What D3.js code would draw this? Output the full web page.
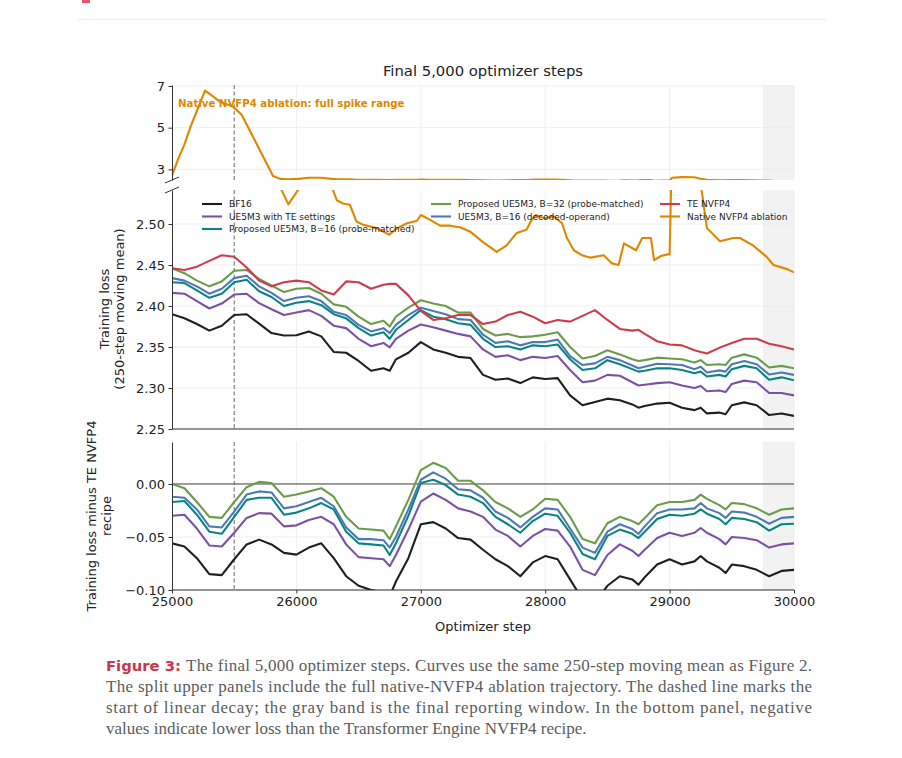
<!DOCTYPE html>
<html>
<head>
<meta charset="utf-8">
<title>Final 5,000 optimizer steps</title>
<script src="https://d3js.org/d3.v7.min.js"></script>
<style>
  body { margin: 0; background: #fff; }
  svg { display: block; }
  text { font-family: "DejaVu Sans", sans-serif; fill: #222; }
  .tick text { font-size: 13px; }
  .tick line, .domain { stroke: #333; }
  .grid { stroke: #ebebeb; stroke-width: 0.8; }
  .series { fill: none; stroke-width: 2.1; stroke-linejoin: round; }
  .caption { font-family: "Liberation Serif", "DejaVu Serif", serif; font-size: 17px; fill: #5c5c5c; }
</style>
</head>
<body>
<script>
// optimizer steps shared by the six comparison runs
var steps = [25000, 25100, 25200, 25300, 25400, 25500, 25600, 25700, 25800, 25900,
             26000, 26100, 26200, 26300, 26400, 26500, 26600, 26700, 26750, 26800, 26900,
             27000, 27100, 27200, 27300, 27400, 27500, 27600, 27700, 27800, 27900,
             28000, 28100, 28200, 28300, 28400, 28500, 28600, 28700, 28750, 28800, 28900,
             29000, 29100, 29200, 29250, 29300, 29400, 29450, 29500, 29600, 29700, 29800, 29900,
             30000];

// TE NVFP4 recipe, 250-step moving mean of training loss
var teNvfp4 = [2.446, 2.444, 2.448, 2.455, 2.462, 2.460, 2.447, 2.431, 2.424, 2.429,
               2.431, 2.429, 2.419, 2.414, 2.430, 2.429, 2.421, 2.426, 2.427, 2.427, 2.413,
               2.394, 2.383, 2.385, 2.389, 2.389, 2.378, 2.381, 2.389, 2.393, 2.387,
               2.379, 2.383, 2.381, 2.388, 2.395, 2.383, 2.372, 2.370, 2.371, 2.366, 2.357,
               2.353, 2.352, 2.346, 2.344, 2.342, 2.349, 2.352, 2.355, 2.360, 2.360, 2.354, 2.351,
               2.347];

// loss minus TE NVFP4 (bottom panel)
var bf16Gap = [-0.056, -0.059, -0.070, -0.085, -0.086, -0.071, -0.057, -0.0525, -0.057, -0.065,
               -0.0666, -0.060, -0.056, -0.070, -0.087, -0.096, -0.100, -0.102, -0.106, -0.092, -0.070,
               -0.038, -0.036, -0.042, -0.051, -0.0525, -0.062, -0.071, -0.0775, -0.087, -0.074,
               -0.068, -0.071, -0.090, -0.109, -0.112, -0.096, -0.087, -0.090, -0.095, -0.088, -0.076,
               -0.071, -0.076, -0.073, -0.068, -0.073, -0.079, -0.084, -0.076, -0.0775, -0.081, -0.087, -0.082,
               -0.081];
var ueTeGap = [-0.030, -0.029, -0.042, -0.058, -0.059, -0.046, -0.032, -0.0275, -0.028, -0.040,
               -0.039, -0.034, -0.031, -0.038, -0.057, -0.069, -0.070, -0.071, -0.0775, -0.067, -0.043,
               -0.0166, -0.009, -0.015, -0.023, -0.026, -0.031, -0.043, -0.049, -0.059, -0.049,
               -0.0425, -0.044, -0.059, -0.081, -0.086, -0.067, -0.057, -0.063, -0.068, -0.062, -0.051,
               -0.046, -0.049, -0.046, -0.0415, -0.046, -0.052, -0.057, -0.050, -0.051, -0.053, -0.060, -0.057,
               -0.056];
var probe16Gap = [-0.017, -0.016, -0.029, -0.045, -0.047, -0.031, -0.015, -0.013, -0.013, -0.029,
                  -0.027, -0.023, -0.018, -0.024, -0.045, -0.056, -0.057, -0.058, -0.067, -0.056, -0.030,
                  0.001, 0.004, -0.001, -0.010, -0.012, -0.018, -0.031, -0.038, -0.046, -0.035,
                  -0.028, -0.030, -0.046, -0.066, -0.071, -0.049, -0.043, -0.047, -0.051, -0.045, -0.033,
                  -0.029, -0.030, -0.028, -0.024, -0.028, -0.033, -0.038, -0.032, -0.033, -0.036, -0.044, -0.038,
                  -0.0375];
var probe32Gap = [0.000, -0.004, -0.017, -0.031, -0.032, -0.017, -0.003, 0.002, 0.001, -0.012,
                  -0.010, -0.007, -0.004, -0.012, -0.031, -0.042, -0.043, -0.044, -0.052, -0.040, -0.015,
                  0.013, 0.020, 0.015, 0.003, 0.003, -0.006, -0.017, -0.023, -0.031, -0.024,
                  -0.014, -0.015, -0.031, -0.052, -0.056, -0.037, -0.031, -0.035, -0.038, -0.032, -0.020,
                  -0.017, -0.017, -0.015, -0.010, -0.014, -0.020, -0.024, -0.018, -0.019, -0.023, -0.029, -0.024,
                  -0.023];
var decodedGap = [-0.012, -0.013, -0.024, -0.040, -0.041, -0.026, -0.010, -0.007, -0.008, -0.023,
                  -0.021, -0.017, -0.013, -0.021, -0.041, -0.052, -0.052, -0.053, -0.060, -0.050, -0.024,
                  0.004, 0.011, 0.005, -0.005, -0.006, -0.013, -0.026, -0.032, -0.041, -0.031,
                  -0.023, -0.024, -0.042, -0.060, -0.065, -0.045, -0.038, -0.0425, -0.047, -0.040, -0.0275,
                  -0.024, -0.024, -0.023, -0.018, -0.023, -0.0275, -0.032, -0.026, -0.027, -0.031, -0.0375, -0.032,
                  -0.031];

// native NVFP4 ablation (own step grid, includes the spike)
var nativeSteps = [25000, 25050, 25100, 25150, 25200, 25265, 25300, 25385, 25490, 25560, 25690, 25812,
                   25870, 25935, 26015, 26100, 26200, 26285, 26325, 26375, 26430, 26483, 26537, 26645,
                   26745, 26810, 26890, 26970, 27000, 27075, 27155, 27235, 27315, 27395, 27500, 27610,
                   27690, 27770, 27850, 27890, 27925, 27990, 28070, 28135, 28175, 28230, 28295, 28365,
                   28470, 28537, 28590, 28633, 28730, 28780, 28850, 28875, 28930, 28985, 29000, 29020,
                   29100, 29200, 29240, 29300, 29405, 29510, 29565, 29670, 29780, 29835, 29945, 30000];
var nativeLoss = [2.70, 3.50, 4.20, 5.06, 5.80, 6.78, 6.63, 6.25, 6.01, 5.62, 4.11, 2.68,
                  2.545, 2.524, 2.542, 2.60, 2.60, 2.545, 2.529, 2.525, 2.5235, 2.503, 2.499, 2.495,
                  2.487, 2.495, 2.501, 2.504, 2.511, 2.505, 2.498, 2.498, 2.496, 2.491, 2.478, 2.466,
                  2.474, 2.489, 2.493, 2.505, 2.511, 2.507, 2.509, 2.501, 2.483, 2.468, 2.462, 2.459,
                  2.462, 2.452, 2.450, 2.4765, 2.468, 2.483, 2.483, 2.456, 2.461, 2.463, 2.463, 2.60,
                  2.63, 2.62, 2.56, 2.495, 2.479, 2.483, 2.483, 2.474, 2.460, 2.450, 2.445, 2.441];

var seriesNames = ["BF16", "UE5M3 with TE settings", "Proposed UE5M3, B=16 (probe-matched)",
                   "Proposed UE5M3, B=32 (probe-matched)", "UE5M3, B=16 (decoded-operand)",
                   "TE NVFP4", "Native NVFP4 ablation"];
var seriesColors = ["#1f1f1f", "#7b52a3", "#0b8481", "#6a9c4a", "#4d7ab5", "#cc3d4b", "#dd8800"];
var gaps = [bf16Gap, ueTeGap, probe16Gap, probe32Gap, decodedGap];

var xTicks = [25000, 26000, 27000, 28000, 29000, 30000];
var topTicks = [3, 5, 7];
var midTicks = [2.25, 2.30, 2.35, 2.40, 2.45, 2.50];
var botTicks = [-0.10, -0.05, 0.00];
var decayStart = 25500, windowStart = 29750;

var W = 902, H = 758;
var svg = d3.select("body").append("svg").attr("width", W).attr("height", H);

var x = d3.scaleLinear().domain([25000, 30000]).range([172, 794]);

var panels = [
  {id: "top", y: d3.scaleLinear().domain([2.49, 7.048]).range([180, 85]), ticks: topTicks, fmt: d3.format("d")},
  {id: "mid", y: d3.scaleLinear().domain([2.25, 2.5415]).range([429, 190]), ticks: midTicks, fmt: d3.format(".2f")},
  {id: "bot", y: d3.scaleLinear().domain([-0.10, 0.0396]).range([590, 442]), ticks: botTicks, fmt: d3.format(".2f")}
];

// page furniture from the surrounding document
svg.append("rect").attr("x", 82).attr("y", 0).attr("width", 8).attr("height", 3).attr("fill", "#e8556a");
svg.append("line").attr("x1", 77).attr("x2", 826).attr("y1", 19.5).attr("y2", 19.5)
   .attr("stroke", "#ececec").attr("stroke-width", 1);

panels.forEach(function(p) {
  var y0 = p.y.range()[1], y1 = p.y.range()[0];
  var g = svg.append("g");

  g.append("clipPath").attr("id", "clip-" + p.id)
    .append("rect").attr("x", x(25000)).attr("y", y0).attr("width", x(30000) - x(25000)).attr("height", y1 - y0);

  // final reporting window
  g.append("rect").attr("x", x(windowStart)).attr("y", y0)
    .attr("width", x(30000) - x(windowStart)).attr("height", y1 - y0).attr("fill", "#f2f2f2");

  g.selectAll(".vgrid").data(xTicks.slice(1)).enter().append("line").attr("class", "grid")
    .attr("x1", function(d) { return x(d); }).attr("x2", function(d) { return x(d); })
    .attr("y1", y0).attr("y2", y1);
  g.selectAll(".hgrid").data(p.ticks).enter().append("line").attr("class", "grid")
    .attr("x1", x(25000)).attr("x2", x(30000))
    .attr("y1", function(d) { return p.y(d); }).attr("y2", function(d) { return p.y(d); });

  if (p.id == "bot") {
    g.append("line").attr("x1", x(25000)).attr("x2", x(30000))
      .attr("y1", p.y(0)).attr("y2", p.y(0)).attr("stroke", "#444").attr("stroke-width", 1);
  }

  g.append("line").attr("x1", x(decayStart)).attr("x2", x(decayStart)).attr("y1", y0).attr("y2", y1)
    .attr("stroke", "#666").attr("stroke-width", 1).attr("stroke-dasharray", "4,2.5");

  var line = d3.line().x(function(d) { return x(d[0]); }).y(function(d) { return p.y(d[1]); });
  var lines = g.append("g").attr("clip-path", "url(#clip-" + p.id + ")");

  if (p.id != "top") {
    gaps.forEach(function(gap, k) {
      var pts = steps.map(function(s, i) {
        return [s, p.id == "mid" ? teNvfp4[i] + gap[i] : gap[i]];
      });
      lines.append("path").attr("class", "series").attr("stroke", seriesColors[k]).attr("d", line(pts));
    });
  }
  if (p.id == "mid") {
    lines.append("path").attr("class", "series").attr("stroke", seriesColors[5])
      .attr("d", line(steps.map(function(s, i) { return [s, teNvfp4[i]]; })));
  }
  if (p.id != "bot") {
    lines.append("path").attr("class", "series").attr("stroke", seriesColors[6])
      .attr("d", line(nativeSteps.map(function(s, i) { return [s, nativeLoss[i]]; })));
  }

  g.append("g").attr("transform", "translate(" + x(25000) + ",0)")
    .call(d3.axisLeft(p.y).tickValues(p.ticks).tickFormat(p.fmt).tickSize(3.5).tickSizeOuter(0).tickPadding(3.5));

  if (p.id != "top") {
    g.append("line").attr("x1", x(25000)).attr("x2", x(30000)).attr("y1", y1).attr("y2", y1)
      .attr("stroke", "#333").attr("stroke-width", 1);
  }
  if (p.id == "bot") {
    g.append("g").attr("transform", "translate(0," + y1 + ")")
      .call(d3.axisBottom(x).tickValues(xTicks).tickFormat(d3.format("d")).tickSize(3.5).tickSizeOuter(0).tickPadding(3.5))
      .select(".domain").remove();
  }
});

// broken-axis marks
[180, 190].forEach(function(yy) {
  svg.append("line").attr("x1", x(25000) - 7).attr("x2", x(25000) + 7)
    .attr("y1", yy + 3).attr("y2", yy - 3).attr("stroke", "#333").attr("stroke-width", 1);
});

svg.append("text").attr("x", 483).attr("y", 76).attr("text-anchor", "middle")
  .style("font-size", "14.8px").text("Final 5,000 optimizer steps");

svg.append("text").attr("x", 178).attr("y", 107).style("font-size", "10.2px").style("font-weight", "bold")
  .style("fill", seriesColors[6]).text("Native NVFP4 ablation: full spike range");

// legend, three columns filled top to bottom
var legendCols = [[0, 1, 2], [3, 4], [5, 6]], legendX = [202, 431, 660];
legendCols.forEach(function(col, c) {
  col.forEach(function(k, r) {
    var yy = 204 + r * 12.5;
    svg.append("line").attr("x1", legendX[c]).attr("x2", legendX[c] + 20).attr("y1", yy).attr("y2", yy)
      .attr("stroke", seriesColors[k]).attr("stroke-width", 2.1);
    svg.append("text").attr("x", legendX[c] + 27).attr("y", yy + 3.2).style("font-size", "9px").text(seriesNames[k]);
  });
});

function yLabel(lines, cx, cy) {
  lines.forEach(function(t, i) {
    svg.append("text").attr("transform", "translate(" + cx[i] + "," + cy + ") rotate(-90)")
      .attr("text-anchor", "middle").style("font-size", "13px").text(t);
  });
}
yLabel(["Training loss", "(250-step moving mean)"], [109, 124], 309);
yLabel(["Training loss minus TE NVFP4", "recipe"], [96, 111], 516);

svg.append("text").attr("x", 483).attr("y", 631).attr("text-anchor", "middle")
  .style("font-size", "13px").text("Optimizer step");

// figure caption
var capLines = [
  "The final 5,000 optimizer steps. Curves use the same 250-step moving mean as Figure 2.",
  "The split upper panels include the full native-NVFP4 ablation trajectory. The dashed line marks the",
  "start of linear decay; the gray band is the final reporting window. In the bottom panel, negative",
  "values indicate lower loss than the Transformer Engine NVFP4 recipe."
];
svg.append("text").attr("x", 106).attr("y", 671).attr("textLength", 75).attr("lengthAdjust", "spacingAndGlyphs")
  .style("font-family", "'DejaVu Sans Condensed', 'DejaVu Sans', sans-serif").style("font-weight", "bold")
  .style("font-size", "14.5px").style("fill", "#c8374a").text("Figure 3:");
capLines.forEach(function(t, i) {
  var tx = svg.append("text").attr("class", "caption").attr("x", i == 0 ? 186 : 106).attr("y", 671 + i * 21).text(t);
  if (i < 3) tx.attr("textLength", i == 0 ? 626 : 706).attr("lengthAdjust", "spacing");
});
</script>
</body>
</html>
